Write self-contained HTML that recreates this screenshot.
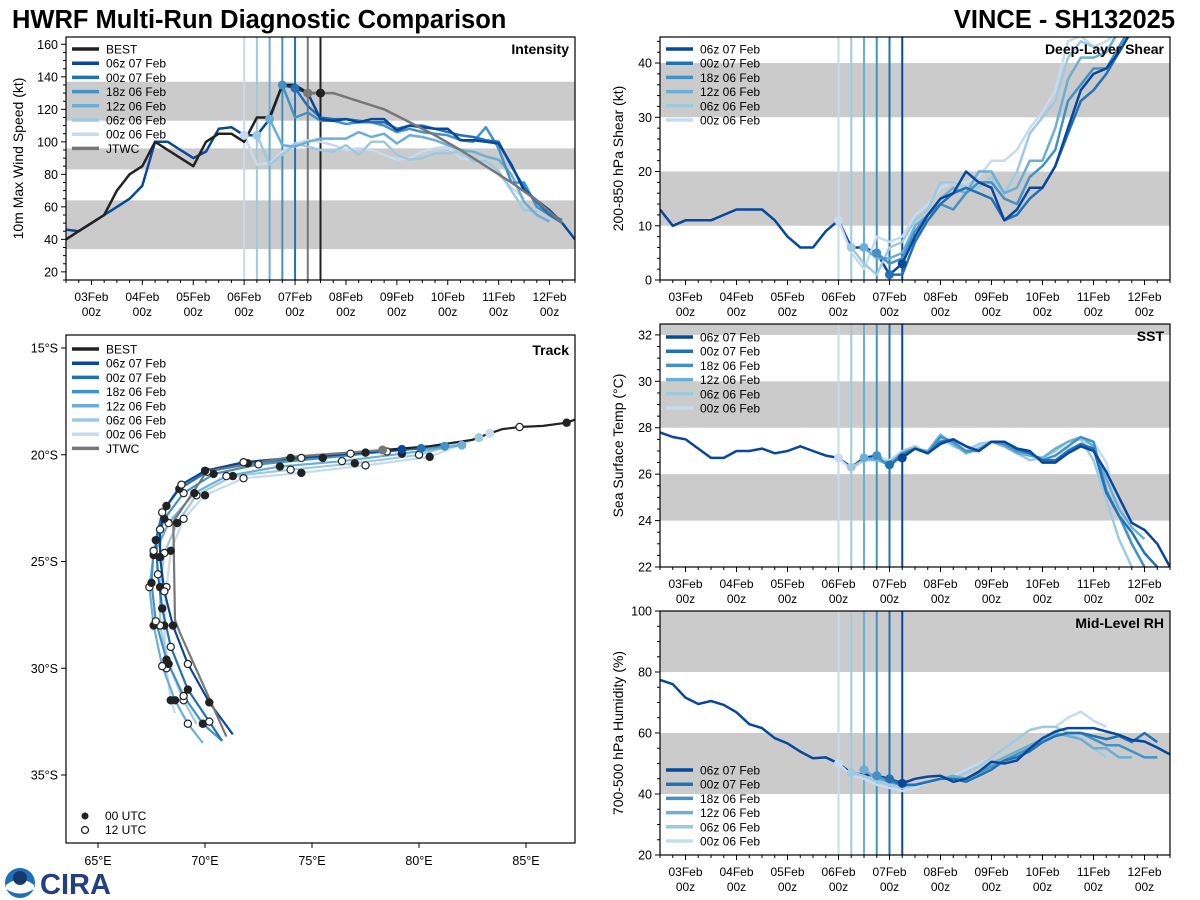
<!DOCTYPE html>
<html><head><meta charset="utf-8">
<style>
html,body{margin:0;padding:0;background:#fff;}
svg{display:block;font-family:"Liberation Sans","DejaVu Sans",sans-serif;}
</style></head>
<body>
<svg id="fig" width="1200" height="900" viewBox="0 0 1200 900" xmlns="http://www.w3.org/2000/svg">
<text x="12" y="28" font-size="25.5" font-weight="bold" fill="#000">HWRF Multi-Run Diagnostic Comparison</text>
<text x="1175" y="28" font-size="25.5" font-weight="bold" fill="#000" text-anchor="end">VINCE - SH132025</text>
<g>
<circle cx="20" cy="883" r="15" fill="#1f6fb8"/>
<path d="M6,885 Q20,874 34,885 L34,889 Q20,898 6,889 Z" fill="#fff"/>
<circle cx="20" cy="878" r="7" fill="#17396b"/>
<text x="40" y="894" font-size="29" font-weight="bold" fill="#22407e">CIRA</text>
</g>
</svg>
<script>
// ---------- DATA ----------
const runNames = ['00z 06 Feb','06z 06 Feb','12z 06 Feb','18z 06 Feb','00z 07 Feb','06z 07 Feb'];
const runInit = [6.0, 6.25, 6.5, 6.75, 7.0, 7.25];
const runColors = ['#c6dbef','#9ecae1','#6baed6','#4292c6','#2171b5','#08479c'];
const dayTicks = [3,4,5,6,7,8,9,10,11,12];
const dayLabels = ['03Feb','04Feb','05Feb','06Feb','07Feb','08Feb','09Feb','10Feb','11Feb','12Feb'];

// Intensity (kt)
const intBestStart = 2.5;
const intBest = [40,45,50,55,70,80,85,100,95,90,85,100,105,105,100,115,115,135,135,130,130];
const intHist = [46,45,50,55,60,65,73,100,100,95,90,94,108,109,104,104,114,135,133,130];
const intJtwcTimes = [7.25,7.5,7.75,8.75,9.25,9.75,10.25,10.75,11.25,11.75,12.25];
const intJtwc = [130,130,130,120,112,104,95,85,75,64,50];
const int0006 = [104,86,87,94,99,101,100,98,95,96,95,92,89,90,94,96,97,90,89,86,80,72,65];
const int0606 = [104,86,92,99,97,95,94,98,92,100,100,92,89,90,93,93,94,88,88,82,70,58,57];
const int1206 = [114,98,97,100,102,102,102,106,103,105,99,104,103,101,98,95,94,91,89,80,63,55,51];
const int1806 = [135,115,118,113,113,111,112,112,110,106,108,106,105,104,101,100,109,96,75,75,60,55,52];
const int0007 = [133,122,115,114,114,113,112,112,108,110,110,108,106,104,103,101,100,85,72,63,55,50];
const int0607 = [130,114,113,114,112,114,114,107,110,109,108,108,101,101,100,99,86,70,64,58,50,40];
const intVTimes = [6.0,6.25,6.5,6.75,7.0,7.25,7.5];
const intVValues = [104,104,114,135,133,130,130];

// Shear (kt)
const shrHist = [13,10,11,11,11,12,13,13,13,11,8,6,6,9,11,6,6,5,1,3];
const shr0006 = [11,5,2,8,7,8,12,14,17,18,18,19,22,22,24,28,31,35,44,45,43,44,46];
const shr0606 = [6,3,1,6,7,11,13,18,18,17,17,19,16,20,27,30,33,41,44,43,42,46];
const shr1206 = [6,4,4,5,10,12,15,17,16,20,20,16,17,22,22,28,37,41,41,42,46];
const shr1806 = [5,3,4,9,12,14,13,16,18,18,15,14,19,21,24,33,36,39,39,43,47];
const shr0007 = [1,1,7,11,14,16,17,16,15,11,12,15,17,21,27,33,35,38,42,46];
const shr0607 = [3,8,12,15,16,20,18,17,11,13,17,17,21,28,35,38,39,42,46];

// SST (C)
const sstHist = [27.8,27.6,27.5,27.1,26.7,26.7,27.0,27.0,27.1,26.9,27.0,27.2,27.0,26.8,26.7,26.3,26.7,26.8,26.5,26.7];
const sst0006 = [26.7,26.2,26.6,26.7,26.6,27.0,27.1,26.9,27.5,27.3,27.0,27.2,27.4,27.3,27.0,26.8,26.6,26.8,27.1,27.3,27.4,26.5,24.5,23.0,22.0];
const sst0606 = [26.3,26.6,26.6,26.4,27.0,27.2,26.9,27.6,27.2,27.0,27.3,27.4,27.3,26.9,26.6,26.7,27.0,27.4,27.5,26.6,24.9,23.2,22.0];
const sst1206 = [26.7,26.6,26.5,26.9,27.1,27.0,27.7,27.3,26.9,27.1,27.4,27.2,26.9,26.8,26.7,27.1,27.4,27.6,27.2,25.8,24.5,23.7,23.2];
const sst1806 = [26.8,26.3,26.9,27.1,26.9,27.6,27.4,27.0,27.0,27.4,27.3,27.0,26.9,26.6,26.8,27.2,27.6,27.4,25.3,24.2,23.0,22.0];
const sst0007 = [26.4,26.8,27.1,26.9,27.4,27.5,27.2,27.0,27.4,27.4,27.1,26.9,26.6,26.6,27.0,27.3,27.1,25.2,24.2,23.5,22.6,22.0];
const sst0607 = [26.7,27.1,26.9,27.3,27.5,27.2,27.0,27.4,27.4,27.1,27.0,26.5,26.5,26.9,27.2,27.0,26.1,25.0,23.9,23.6,23.0,22.0];

// Mid-level RH (%)
const rhHist = [77.4,76,71.6,69.5,70.5,69.2,66.8,62.9,61.6,58.3,56.6,53.9,51.7,52,50,46.8,46.4,46,45,43.5];
const rh0006 = [50,46,45,43,42,41,42,44,45,46,48,50,52,55,58,61,62,62,65,67,64,62];
const rh0606 = [47,46,44,43,42,43,44,45,45,47,49,52,55,58,61,62,62,60,58,55,52];
const rh1206 = [48,45,44,43,43,44,45,46,45,47,50,52,54,56,58,60,59,58,55,55,52,52];
const rh1806 = [46,44,43,43,44,45,45,45,47,49,51,53,55,57,59,60,60,58,56,56,54,52,52];
const rh0007 = [45,43,43,44,45,45,44,46,48,51,52,54,57,59,60,60,59,58,59,57,60,57];
const rh0607 = [43.5,45,45.7,46,44,45,47.3,50.6,50,51,55,58.3,60.5,61.6,61.6,61.6,60.5,59.4,57.7,57.2,55.2,53];

// Track (lon E, lat S)
const trkBest = [[87.3,18.35],[86.9,18.5],[85.8,18.65],[84.7,18.7],[83.9,18.8],[83.3,19.0],[82.5,19.3],[80.5,19.6],[78.3,19.78]];
const trkBestMarks = ['none','f','none','o','none','none','none','none','none'];
const trkJtwc = [[78.3,19.78],[74.0,20.1],[70.08,20.79],[68.52,23.14],[68.6,27.74],[68.83,28.35],[71.0,33.2]];
const trk0006 = [[83.3,19.0],[80.5,20.1],[77.5,20.5],[74.5,20.85],[71.8,21.1],[70.0,21.9],[69.0,23.0],[68.4,24.5],[68.2,26.2],[68.1,28.0],[68.2,30.0],[68.4,31.5],[68.6,32.1]];
const trk0606 = [[82.8,19.2],[80.0,20.0],[77.0,20.4],[74.0,20.7],[71.3,21.0],[69.6,21.9],[68.7,23.2],[68.1,24.6],[67.9,26.2],[67.9,28.0],[68.3,29.8],[69.0,31.5],[69.6,32.6]];
const trk1206 = [[82.0,19.55],[79.2,19.95],[76.4,20.3],[73.5,20.55],[71.0,21.0],[69.5,21.8],[68.3,23.2],[67.6,24.7],[67.4,26.2],[67.6,28.0],[68.0,29.9],[68.6,31.5],[69.2,32.6],[69.9,33.5]];
const trk1806 = [[81.2,19.6],[78.5,19.85],[75.5,20.15],[72.5,20.45],[70.4,20.9],[69.0,21.8],[68.1,23.0],[67.6,24.5],[67.5,26.0],[67.7,27.8],[68.2,29.6],[69.0,31.3],[69.9,32.6],[70.8,33.4]];
const trk0007 = [[80.1,19.7],[77.5,19.9],[74.5,20.15],[72.0,20.4],[70.1,20.8],[68.8,21.6],[68.0,22.7],[67.7,24.0],[67.8,25.6],[68.0,27.2],[68.4,29.0],[69.2,31.0],[70.2,32.5],[70.8,33.4]];
const trk0607 = [[79.2,19.75],[76.8,19.95],[74.0,20.15],[71.8,20.35],[70.0,20.75],[68.9,21.4],[68.2,22.4],[67.9,23.5],[67.9,24.8],[68.1,26.4],[68.5,28.0],[69.2,29.8],[70.2,31.6],[71.3,33.1]];
const lonTicks = [65,70,75,80,85];
const latTicks = [15,20,25,30,35];

// ---------- DRAWING ----------
const NS = 'http://www.w3.org/2000/svg';
const svg = document.getElementById('fig');
function mk(tag, attrs, parent) {
  const e = document.createElementNS(NS, tag);
  for (const k in attrs) e.setAttribute(k, attrs[k]);
  (parent || svg).appendChild(e);
  return e;
}
function txt(parent, x, y, s, size, extra) {
  const t = mk('text', Object.assign({x: x, y: y, 'font-size': size, fill: '#000'}, extra || {}), parent);
  t.textContent = s;
  return t;
}
let clipId = 0;

function tsPanel(cfg) {
  const g = mk('g', {});
  
  
  const {x0, y0, x1, y1, vmin, vmax} = cfg;
  const X = t => x0 + (t - 2.5) / 10 * (x1 - x0);
  const Y = v => y1 - (v - vmin) / (vmax - vmin) * (y1 - y0);
  const cid = 'clip' + (clipId++);
  const cp = mk('clipPath', {id: cid}, g);
  mk('rect', {x: x0, y: y0, width: x1 - x0, height: y1 - y0}, cp);
  cfg.bands.forEach(b => {
    const r = mk('rect', {x: x0, y: Y(Math.min(b[1], vmax)), width: x1 - x0, height: Y(b[0]) - Y(Math.min(b[1], vmax)), fill: '#cbcbcb'}, g);
    
    
  });
  const plot = mk('g', {'clip-path': 'url(#' + cid + ')'}, g);
  cfg.vTimes.forEach((t, i) => {
    const l = mk('line', {x1: X(t), x2: X(t), y1: y0, y2: y1, stroke: cfg.vColors[i], 'stroke-width': 2}, plot);
    
    
  });
  function series(times, vals, color, nm, w) {
    const d = vals.map((v, i) => (i ? 'L' : 'M') + X(times[i]).toFixed(1) + ',' + Y(v).toFixed(1)).join('');
    const p = mk('path', {d: d, fill: 'none', stroke: color, 'stroke-width': w || 2.5, 'stroke-linejoin': 'round'}, plot);
    
    
  }
  const tsFrom = (start, n) => Array.from({length: n}, (_, i) => start + i * 0.25);
  series(tsFrom(2.5, cfg.hist.length), cfg.hist, runColors[5], 'history-line');
  cfg.runs.forEach((vals, i) => series(tsFrom(runInit[i], vals.length), vals, runColors[i], 'run-line-' + runNames[i].replace(/ /g, '-').toLowerCase()));
  if (cfg.best) series(tsFrom(cfg.bestStart, cfg.best.length), cfg.best, '#222', 'best-track-line');
  if (cfg.jtwc) series(cfg.jtwcTimes, cfg.jtwc, '#777', 'jtwc-line');
  cfg.vTimes.forEach((t, i) => {
    const c = mk('circle', {cx: X(t), cy: Y(cfg.vValues[i]), r: 4.5, fill: cfg.vColors[i]}, plot);
    
    
  });
  const fr = mk('rect', {x: x0, y: y0, width: x1 - x0, height: y1 - y0, fill: 'none', stroke: '#000', 'stroke-width': 1.2}, g);
  
  
  for (let v = Math.ceil(vmin / cfg.minor) * cfg.minor; v <= vmax + 1e-9; v += cfg.minor) {
    const major = Math.abs(v / cfg.major - Math.round(v / cfg.major)) < 1e-6;
    mk('line', {x1: x0, x2: x0 - (major ? 5 : 3), y1: Y(v), y2: Y(v), stroke: '#000', 'stroke-width': 1}, g);
    if (major) {
      const t = txt(g, x0 - 8, Y(v) + 4.5, String(Math.round(v)), 12.5, {'text-anchor': 'end'});
      
      
    }
  }
  for (let t = 2.5; t <= 12.5 + 1e-9; t += 0.25) {
    const major = Math.abs(t - Math.round(t)) < 1e-6;
    mk('line', {x1: X(t), x2: X(t), y1: y1, y2: y1 + (major ? 5 : 3), stroke: '#000', 'stroke-width': 1}, g);
  }
  dayTicks.forEach((d, i) => {
    const t1 = txt(g, X(d), y1 + 21, dayLabels[i], 12, {'text-anchor': 'middle'});
    
    
    const t2 = txt(g, X(d), y1 + 36, '00z', 12, {'text-anchor': 'middle'});
    
    
  });
  const yc = (y0 + y1) / 2;
  const yl = txt(g, cfg.ylabX, yc, cfg.ylabel, 14, {'text-anchor': 'middle', transform: 'rotate(-90 ' + cfg.ylabX + ' ' + yc + ')'});
  
  
  const pt = txt(g, x1 - 6, y0 + 17, cfg.title, 14, {'text-anchor': 'end', 'font-weight': 'bold'});
  
  
  legend(g, x0, cfg.legY, cfg.legItems);
}

function legend(g, x0, ly, items) {
  const lg = mk('g', {}, g);
  
  
  items.forEach((it, i) => {
    const y = ly + i * 14.2;
    const l = mk('line', {x1: x0 + 6, x2: x0 + 33, y1: y, y2: y, stroke: it[1], 'stroke-width': 3.5}, lg);
    
    
    const t = txt(lg, x0 + 40, y + 4.5, it[0], 12);
    
    
  });
}

const runLegend = runNames.map((n, i) => [n, runColors[i]]).reverse();
const fullLegend = [['BEST', '#222']].concat(runLegend, [['JTWC', '#777']]);
const rightV = {vTimes: runInit, vColors: runColors};

tsPanel({name: 'intensity-panel', x0: 66, y0: 37, x1: 575, y1: 280, vmin: 15, vmax: 164.5, major: 20, minor: 5,
  bands: [[34, 64], [83, 96], [113, 137]], hist: intHist,
  runs: [int0006, int0606, int1206, int1806, int0007, int0607],
  best: intBest, bestStart: intBestStart, jtwc: intJtwc, jtwcTimes: intJtwcTimes,
  vTimes: intVTimes, vColors: runColors.slice(0, 5).concat(['#777', '#222']), vValues: intVValues,
  ylabel: '10m Max Wind Speed (kt)', ylabX: 23, title: 'Intensity', legY: 49, legItems: fullLegend});

tsPanel(Object.assign({name: 'shear-panel', x0: 660, y0: 37, x1: 1170, y1: 280, vmin: 0, vmax: 44.8, major: 10, minor: 2,
  bands: [[10, 20], [30, 40]], hist: shrHist, runs: [shr0006, shr0606, shr1206, shr1806, shr0007, shr0607],
  vValues: [11, 6, 6, 5, 1, 3],
  ylabel: '200-850 hPa Shear (kt)', ylabX: 623, title: 'Deep-Layer Shear', legY: 49, legItems: runLegend}, rightV));

tsPanel(Object.assign({name: 'sst-panel', x0: 660, y0: 324, x1: 1170, y1: 567, vmin: 22, vmax: 32.47, major: 2, minor: 0.5,
  bands: [[24, 26], [28, 30], [32, 33]], hist: sstHist, runs: [sst0006, sst0606, sst1206, sst1806, sst0007, sst0607],
  vValues: [26.7, 26.3, 26.7, 26.8, 26.4, 26.7],
  ylabel: 'Sea Surface Temp (°C)', ylabX: 623, title: 'SST', legY: 337, legItems: runLegend}, rightV));

tsPanel(Object.assign({name: 'rh-panel', x0: 660, y0: 611, x1: 1170, y1: 855, vmin: 20, vmax: 100, major: 20, minor: 5,
  bands: [[40, 60], [80, 100]], hist: rhHist, runs: [rh0006, rh0606, rh1206, rh1806, rh0007, rh0607],
  vValues: [50, 47, 48, 46, 45, 43.5],
  ylabel: '700-500 hPa Humidity (%)', ylabX: 623, title: 'Mid-Level RH', legY: 770, legItems: runLegend}, rightV));

// ---------- TRACK ----------
(function () {
  const x0 = 66, y0 = 335, x1 = 575, y1 = 843;
  const X = lon => 98 + (lon - 65) * 21.4;
  const Y = lat => 348 + (lat - 15) * 21.35;
  const g = mk('g', {});
  
  
  const cp = mk('clipPath', {id: 'trkclip'}, g);
  mk('rect', {x: x0, y: y0, width: x1 - x0, height: y1 - y0}, cp);
  const plot = mk('g', {'clip-path': 'url(#trkclip)'}, g);
  function tline(pts, color, nm) {
    const d = pts.map((p, i) => (i ? 'L' : 'M') + X(p[0]).toFixed(1) + ',' + Y(p[1]).toFixed(1)).join('');
    const p = mk('path', {d: d, fill: 'none', stroke: color, 'stroke-width': 2.2, 'stroke-linejoin': 'round'}, plot);
    
    
  }
  function mark(p, kind) {
    const c = mk('circle', {cx: X(p[0]), cy: Y(p[1]), r: 3.6, fill: kind === 'f' ? '#222' : '#fff', stroke: '#222', 'stroke-width': 1.2}, plot);
    
    
  }
  const trks = [trk0006, trk0606, trk1206, trk1806, trk0007, trk0607];
  trks.forEach((t, i) => tline(t, runColors[i], 'track-' + runNames[i].replace(/ /g, '-').toLowerCase()));
  tline(trkBest, '#222', 'best-track');
  tline(trkJtwc, '#777', 'jtwc-track');
  trks.forEach((t, i) => {
    t.forEach((p, j) => { if (j > 0 && j < t.length - 1) mark(p, (j + i) % 2 ? 'f' : 'o'); });
    const c = mk('circle', {cx: X(t[0][0]), cy: Y(t[0][1]), r: 4.5, fill: runColors[i]}, plot);
    
    
  });
  trkBest.forEach((p, j) => { if (trkBestMarks[j] !== 'none') mark(p, trkBestMarks[j]); });
  const gm = mk('circle', {cx: X(trkJtwc[0][0]), cy: Y(trkJtwc[0][1]), r: 4.5, fill: '#777'}, plot);
  
  
  const fr = mk('rect', {x: x0, y: y0, width: x1 - x0, height: y1 - y0, fill: 'none', stroke: '#000', 'stroke-width': 1.2}, g);
  
  
  lonTicks.forEach(l => {
    mk('line', {x1: X(l), x2: X(l), y1: y1, y2: y1 + 5, stroke: '#000'}, g);
    const t = txt(g, X(l), y1 + 22, l + '°E', 12.5, {'text-anchor': 'middle'});
    
    
  });
  latTicks.forEach(l => {
    mk('line', {x1: x0, x2: x0 - 5, y1: Y(l), y2: Y(l), stroke: '#000'}, g);
    const t = txt(g, x0 - 8, Y(l) + 4.5, l + '°S', 12.5, {'text-anchor': 'end'});
    
    
  });
  const pt = txt(g, x1 - 6, y0 + 20, 'Track', 14, {'text-anchor': 'end', 'font-weight': 'bold'});
  
  
  legend(g, x0, 349, fullLegend);
  const ml = mk('g', {}, g);
  
  
  mk('circle', {cx: 85, cy: 816, r: 3.5, fill: '#222'}, ml);
  const a = txt(ml, 105, 820, '00 UTC', 12);
  
  
  mk('circle', {cx: 85, cy: 830, r: 3.5, fill: '#fff', stroke: '#222', 'stroke-width': 1.3}, ml);
  const b = txt(ml, 105, 834, '12 UTC', 12);
  
  
})();
</script>
</body></html>
